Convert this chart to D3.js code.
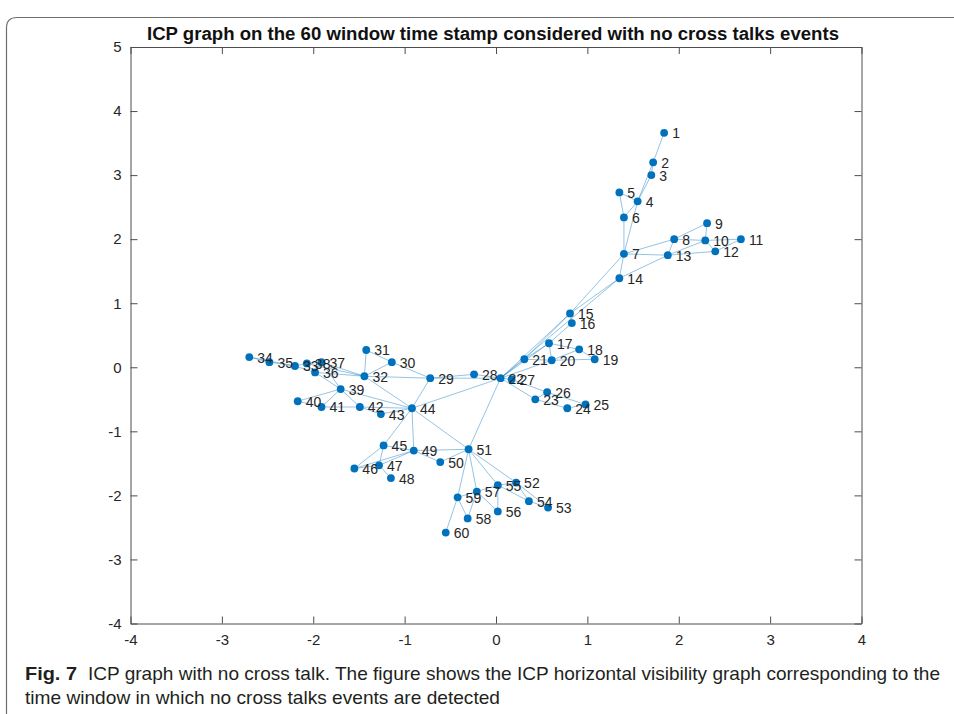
<!DOCTYPE html>
<html>
<head>
<meta charset="utf-8">
<script src="https://cdn.jsdelivr.net/npm/d3@7"></script>
<style>
  html, body { margin: 0; padding: 0; background: #fff; }
  svg { display: block; }
</style>
</head>
<body>
<svg id="fig" width="954" height="714"></svg>
<script>
// Node coordinates of the ICP visibility graph (node id = index + 1)
const nodeX = [
  1.84, 1.72, 1.70, 1.55, 1.35, 1.40, 1.40, 1.95, 2.31, 2.29,
  2.68, 2.40, 1.88, 1.35, 0.81, 0.83, 0.58, 0.91, 1.08, 0.61,
  0.31, 0.05, 0.43, 0.78, 0.98, 0.56, 0.17, -0.24, -0.72, -1.14,
  -1.42, -1.44, -2.20, -2.70, -2.48, -1.98, -1.91, -2.07, -1.70, -2.17,
  -1.91, -1.49, -1.26, -0.92, -1.23, -1.55, -1.28, -1.15, -0.90, -0.61,
  -0.30, 0.22, 0.57, 0.36, 0.02, 0.02, -0.21, -0.31, -0.42, -0.55
];
const nodeY = [
  3.66, 3.20, 3.00, 2.59, 2.73, 2.34, 1.77, 2.00, 2.25, 1.98,
  2.00, 1.81, 1.75, 1.39, 0.84, 0.69, 0.375, 0.28, 0.125, 0.11,
  0.125, -0.17, -0.50, -0.64, -0.58, -0.39, -0.19, -0.11, -0.17, 0.08,
  0.27, -0.14, 0.02, 0.16, 0.08, -0.08, 0.08, 0.06, -0.34, -0.53,
  -0.62, -0.62, -0.73, -0.64, -1.22, -1.58, -1.53, -1.73, -1.30, -1.48,
  -1.28, -1.80, -2.19, -2.09, -1.84, -2.25, -1.94, -2.36, -2.03, -2.58
];
// Edge list as [source, target] node ids
const edges = [
  [1,2],[2,3],[3,4],[2,4],[4,5],[5,6],[4,6],[4,7],[6,7],[7,8],[7,13],[7,14],
  [8,9],[8,10],[8,13],[9,10],[10,11],[10,12],[10,13],[11,12],[12,13],[13,14],
  [7,15],[14,15],[14,22],[15,16],[15,21],[15,22],[16,17],[17,18],[17,20],[17,21],
  [17,22],[18,19],[18,20],[19,20],[20,21],[20,22],[21,22],
  [22,27],[26,27],[22,23],[23,24],[24,25],[25,26],[23,26],
  [22,28],[28,29],[22,29],[22,44],[22,51],[29,44],
  [29,30],[29,32],[30,31],[30,32],[31,32],[32,44],[32,36],[32,38],[32,37],
  [33,34],[34,35],[33,35],[33,38],[37,38],[36,37],[33,36],[36,39],[37,39],
  [39,40],[39,41],[39,42],[39,44],[40,41],[41,42],[42,43],[42,44],[43,44],
  [44,45],[44,49],[44,51],[45,46],[45,47],[46,47],[47,48],[47,49],[46,49],[45,49],
  [49,50],[49,51],[50,51],[51,52],[51,55],[51,57],[51,59],
  [52,53],[52,54],[53,54],[52,55],[54,55],[55,56],[55,57],[56,57],
  [57,58],[57,59],[58,59],[59,60]
];
const xTicks = [-4, -3, -2, -1, 0, 1, 2, 3, 4];
const yTicks = [-4, -3, -2, -1, 0, 1, 2, 3, 4, 5];
const titleText = "ICP graph on the 60 window time stamp considered with no cross talks events";
const captionLead = "Fig. 7";
const captionLine1 = "ICP graph with no cross talk. The figure shows the ICP horizontal visibility graph corresponding to the";
const captionLine2 = "time window in which no cross talks events are detected";

const svg = d3.select("#fig");
const plotL = 130.5, plotR = 861.5, plotT = 47, plotB = 623.5;
const x = d3.scaleLinear().domain([-4, 4]).range([plotL, plotR]);
const y = d3.scaleLinear().domain([-4, 5]).range([plotB, plotT]);

// Figure frame with rounded top-left corner
svg.append("path")
  .attr("d", "M6.5,714 L6.5,28 Q6.5,17.5 17,17.5 L954,17.5")
  .attr("fill", "none").attr("stroke", "#6e6e6e").attr("stroke-width", 1.2);

const axisFont = "'Liberation Sans', Arial, sans-serif";
const axColor = "#4d4d4d";
const tickLen = 7;
const fmt = d => String(d);

// Axes: bottom/left with labels, top/right mirrored ticks only (boxed axes, inward ticks)
const gx = svg.append("g").attr("transform", `translate(0,${plotB})`)
  .call(d3.axisBottom(x).tickValues(xTicks).tickSizeInner(-tickLen).tickSizeOuter(0).tickPadding(11).tickFormat(fmt));
const gy = svg.append("g").attr("transform", `translate(${plotL},0)`)
  .call(d3.axisLeft(y).tickValues(yTicks).tickSizeInner(-tickLen).tickSizeOuter(0).tickPadding(9).tickFormat(fmt));
const gxt = svg.append("g").attr("transform", `translate(0,${plotT})`)
  .call(d3.axisTop(x).tickValues(xTicks).tickSizeInner(-tickLen).tickSizeOuter(0).tickFormat(""));
const gyr = svg.append("g").attr("transform", `translate(${plotR},0)`)
  .call(d3.axisRight(y).tickValues(yTicks).tickSizeInner(-tickLen).tickSizeOuter(0).tickFormat(""));
[gx, gy, gxt, gyr].forEach(g => {
  g.select(".domain").attr("stroke", axColor).attr("stroke-width", 1);
  g.selectAll(".tick line").attr("stroke", axColor).attr("stroke-width", 1);
  g.selectAll(".tick text").attr("fill", "#262626").style("font-family", axisFont).style("font-size", "15px");
});

// Title
svg.append("text")
  .attr("x", 147).attr("y", 40)
  .attr("textLength", 692).attr("lengthAdjust", "spacingAndGlyphs")
  .style("font-family", axisFont)
  .style("font-weight", "bold").style("font-size", "18px")
  .attr("fill", "#111")
  .text(titleText);

// Edges
const nodes = nodeX.map((v, i) => ({ id: i + 1, x: v, y: nodeY[i] }));
svg.append("g").selectAll("line").data(edges).join("line")
  .attr("x1", d => x(nodes[d[0] - 1].x)).attr("y1", d => y(nodes[d[0] - 1].y))
  .attr("x2", d => x(nodes[d[1] - 1].x)).attr("y2", d => y(nodes[d[1] - 1].y))
  .attr("stroke", "#0072BD").attr("stroke-opacity", 0.42).attr("stroke-width", 1);

// Nodes
svg.append("g").selectAll("circle").data(nodes).join("circle")
  .attr("cx", d => x(d.x)).attr("cy", d => y(d.y)).attr("r", 3.9)
  .attr("fill", "#0072BD");

// Node labels
svg.append("g").selectAll("text").data(nodes).join("text")
  .attr("x", d => x(d.x) + 8).attr("y", d => y(d.y) + 5.5)
  .style("font-family", axisFont).style("font-size", "14px")
  .attr("fill", "#262626")
  .text(d => d.id);

// Caption
const capFont = "'Liberation Sans', Arial, sans-serif";
svg.append("text").attr("x", 25).attr("y", 680)
  .attr("textLength", 52).attr("lengthAdjust", "spacingAndGlyphs")
  .style("font-family", capFont).style("font-weight", "bold").style("font-size", "19px")
  .attr("fill", "#231f20").text(captionLead);
svg.append("text").attr("x", 88).attr("y", 680)
  .attr("textLength", 852).attr("lengthAdjust", "spacingAndGlyphs")
  .style("font-family", capFont).style("font-size", "19px")
  .attr("fill", "#231f20").text(captionLine1);
svg.append("text").attr("x", 25).attr("y", 704)
  .attr("textLength", 475).attr("lengthAdjust", "spacingAndGlyphs")
  .style("font-family", capFont).style("font-size", "19px")
  .attr("fill", "#231f20").text(captionLine2);
</script>
</body>
</html>
